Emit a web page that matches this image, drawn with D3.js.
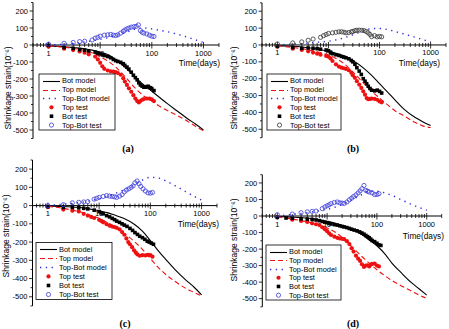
<!DOCTYPE html>
<html><head><meta charset="utf-8">
<script src="https://cdn.jsdelivr.net/npm/d3@7"></script>
<style>body{margin:0;background:#fff}svg{display:block}text{font-family:"Liberation Sans",Arial,sans-serif;fill:#000}</style>
</head><body><svg id="c" width="449" height="329"></svg>
<script>
// ---------- DATA ----------
const modelTimes = [1,2,3,5,7,10,15,20,30,50,70,100,150,200,300,500,700,1000];

const botModelA  = [-5,-10,-15,-22,-30,-42,-60,-85,-130,-195,-235,-272,-315,-345,-385,-435,-465,-500];
const topModelA  = [-5,-13,-20,-32,-45,-70,-100,-130,-185,-260,-300,-330,-365,-385,-412,-450,-478,-505];
const diffModelA = [0,5,10,18,25,33,45,55,72,95,100,95,85,78,65,45,30,15];

const botModelB  = [-4,-8,-12,-20,-28,-38,-52,-65,-92,-140,-180,-230,-285,-325,-380,-430,-455,-478];
const topModelB  = [-5,-15,-22,-35,-45,-60,-85,-110,-160,-230,-275,-315,-360,-390,-420,-460,-480,-490];
const diffModelB = [0,5,8,14,18,22,32,42,60,85,97,98,90,80,65,45,32,18];

const botModelC  = [-2,-5,-8,-13,-20,-28,-40,-52,-70,-105,-140,-192,-255,-295,-350,-410,-445,-490];
const topModelC  = [-5,-15,-25,-40,-55,-70,-95,-115,-150,-200,-240,-290,-345,-378,-415,-455,-475,-495];
const diffModelC = [0,8,12,20,28,38,52,65,85,115,140,155,150,135,110,75,52,30];

const botModelD  = [-3,-7,-10,-16,-24,-33,-45,-58,-77,-112,-145,-180,-235,-285,-340,-405,-440,-478];
const topModelD  = [-5,-18,-28,-42,-55,-72,-100,-130,-180,-245,-285,-325,-365,-390,-420,-455,-478,-498];
const diffModelD = [0,10,15,25,32,40,55,70,95,130,150,150,138,125,100,70,52,35];

const topTestA = [[1,-10],[2,-22],[3,-30],[4,-38],[5,-45],[6,-55],[8,-68],[9,-85],[10,-105],[11,-125],[12,-140],[14,-150],[16,-155],[18,-157],[20,-160],[22,-165],[25,-175],[28,-195],[30,-215],[33,-235],[36,-255],[40,-275],[44,-295],[48,-315],[52,-330],[56,-338],[60,-330],[65,-322],[70,-318],[80,-315],[90,-315],[100,-320],[110,-330]];
const botTestA = [[1,-2],[2,-15],[3,-20],[4,-27],[5,-30],[6,-35],[8,-42],[9,-48],[10,-52],[11,-58],[12,-62],[14,-68],[16,-75],[18,-85],[20,-92],[22,-97],[25,-102],[28,-110],[30,-120],[33,-130],[36,-142],[40,-160],[44,-178],[48,-192],[52,-205],[56,-222],[60,-235],[65,-242],[70,-248],[75,-248],[80,-245],[85,-243],[90,-250],[95,-252],[100,-258],[110,-268]];
const diffTestA = [[1,5],[2,10],[3,15],[4,20],[5,22],[7,30],[8,40],[9,45],[10,52],[12,58],[14,60],[16,62],[18,58],[20,56],[22,60],[25,70],[28,80],[30,88],[33,95],[36,100],[40,105],[45,108],[50,110],[55,118],[60,85],[65,75],[70,70],[80,65],[90,58],[100,52],[110,50]];

const topTestB = [[1,-10],[2,-22],[3,-30],[4,-38],[5,-45],[6,-52],[7,-58],[9,-65],[10,-70],[11,-80],[12,-95],[14,-115],[16,-128],[18,-135],[20,-138],[22,-142],[25,-150],[28,-165],[30,-180],[33,-195],[36,-215],[40,-235],[44,-255],[48,-275],[52,-295],[56,-315],[60,-322],[65,-320],[70,-318],[80,-320],[90,-325],[100,-335],[110,-340]];
const botTestB = [[1,-8],[2,-15],[3,-20],[4,-18],[5,-20],[6,-22],[7,-25],[9,-30],[10,-35],[11,-45],[12,-52],[14,-58],[16,-62],[18,-68],[20,-72],[22,-76],[25,-82],[28,-92],[30,-100],[33,-115],[36,-135],[40,-155],[44,-175],[48,-200],[52,-215],[56,-230],[60,-245],[65,-258],[70,-268],[80,-272],[90,-268],[100,-275],[110,-285]];
const diffTestB = [[1,6],[2,12],[3,18],[4,28],[5,35],[7,45],[8,55],[9,62],[10,68],[12,72],[14,75],[16,78],[18,78],[20,76],[22,72],[25,74],[28,78],[30,80],[33,85],[36,87],[40,88],[45,87],[50,85],[55,80],[60,72],[65,62],[70,50],[80,55],[90,48],[100,50],[110,48]];

const topTestC = [[1,-8],[2,-22],[3,-28],[4,-32],[5,-45],[6,-55],[7,-62],[8,-68],[10,-78],[11,-85],[12,-92],[14,-102],[16,-110],[18,-115],[20,-118],[22,-122],[25,-130],[28,-145],[31,-160],[34,-180],[37,-200],[40,-212],[44,-228],[48,-245],[52,-258],[56,-268],[62,-275],[70,-272],[80,-273],[90,-270],[100,-272],[110,-280]];
const botTestC = [[1,-6],[2,-10],[3,-10],[4,-12],[5,-15],[6,-18],[8,-25],[10,-33],[11,-40],[12,-45],[14,-55],[16,-62],[18,-70],[20,-77],[22,-85],[25,-92],[28,-100],[31,-107],[35,-114],[40,-125],[45,-136],[50,-148],[56,-158],[62,-168],[70,-176],[78,-185],[87,-195],[95,-200],[105,-206],[115,-212]];
const diffTestC = [[1,0],[2,5],[3,15],[4,18],[5,20],[6,22],[8,35],[9,40],[10,45],[12,50],[14,55],[16,52],[18,50],[20,48],[22,45],[25,52],[28,60],[31,75],[34,85],[38,92],[42,100],[46,108],[50,125],[55,135],[60,120],[65,105],[72,92],[80,80],[90,70],[100,68],[110,72]];

const topTestD = [[1,-8],[2,-22],[3,-30],[4,-36],[5,-44],[6,-50],[7,-55],[8,-68],[9,-80],[10,-92],[11,-105],[12,-115],[14,-125],[16,-132],[18,-136],[20,-138],[22,-140],[25,-152],[28,-170],[31,-195],[34,-215],[38,-240],[42,-258],[46,-272],[50,-292],[55,-308],[60,-300],[65,-298],[70,-305],[75,-295],[80,-290],[90,-288],[100,-300],[110,-305]];
const botTestD = [[1,-8],[1.5,-12],[2,-14],[3,-17],[4,-19],[5,-21],[6,-24],[7,-28],[8,-33],[9,-37],[10,-40],[11,-44],[12,-48],[14,-52],[16,-55],[18,-59],[20,-63],[22,-66],[25,-70],[28,-75],[31,-80],[35,-85],[40,-90],[45,-96],[50,-103],[55,-110],[60,-118],[65,-125],[70,-132],[75,-140],[80,-148],[90,-155],[100,-165],[110,-175],[120,-178]];
const diffTestD = [[1,8],[2,12],[3,20],[4,25],[5,28],[6,30],[8,45],[9,55],[10,62],[11,68],[12,75],[14,82],[16,85],[18,80],[20,78],[22,76],[25,85],[28,98],[31,108],[34,118],[38,128],[42,140],[46,152],[50,165],[55,185],[60,155],[65,150],[70,145],[80,140],[90,130],[100,130],[110,135]];

const yTickValues = [200,100,0,-100,-200,-300,-400,-500];
const xTickValues = [1,10,100,1000];
const xTickLabels = ["1","10","100","1000"];
const legendLabels = ["Bot model","Top model","Top-Bot model","Top test","Bot test","Top-Bot test"];
const panelLabels = ["(a)","(b)","(c)","(d)"];
const xAxisTitle = "Time(days)";
const yAxisTitle = "Shrinkage strain(10\u207B\u2076)";
const diffTestColors = ["#3b3bd9","#333333","#3b3bd9","#3b3bd9"];

// ---------- LAYOUT ----------
const panels = [
  {bot:botModelA, top:topModelA, diff:diffModelA, topT:topTestA, botT:botTestA, diffT:diffTestA,
   xr:[33,219], yr:[2.5,138.5], leg:[39,74,76,56], lab:[128,152], tit:[8,88], time:[220,66]},
  {bot:botModelB, top:topModelB, diff:diffModelB, topT:topTestB, botT:botTestB, diffT:diffTestB,
   xr:[262,446], yr:[2.8,137.7], leg:[267,74,74,56], lab:[353,152], tit:[234,88], time:[440,66]},
  {bot:botModelC, top:topModelC, diff:diffModelC, topT:topTestC, botT:botTestC, diffT:diffTestC,
   xr:[32.5,217], yr:[160,305.9], leg:[36,242.5,76,57], lab:[125,327], tit:[6,236], time:[219,227]},
  {bot:botModelD, top:topModelD, diff:diffModelD, topT:topTestD, botT:botTestD, diffT:diffTestD,
   xr:[262.3,441.7], yr:[174.7,306.9], leg:[266,245,75,55], lab:[353,327], tit:[234,240], time:[444,239]}
];

const svg = d3.select("#c");
const RED = "#ee1111", BLUE = "#2b2bdd";

panels.forEach((p, i) => {
  const g = svg.append("g");
  const x = d3.scaleLog().domain([0.5, 2000]).range(p.xr);
  const y = d3.scaleLinear().domain([250, -550]).range(p.yr);
  const y0 = y(0);

  // y axis line + ticks
  g.append("line").attr("x1", p.xr[0]).attr("x2", p.xr[0]).attr("y1", p.yr[0]).attr("y2", p.yr[1])
    .attr("stroke", "#000").attr("stroke-width", 1);
  d3.range(-550, 251, 50).forEach(v => {
    const major = v % 100 === 0;
    g.append("line").attr("x1", p.xr[0] - (major ? 3.5 : 2)).attr("x2", p.xr[0])
      .attr("y1", y(v)).attr("y2", y(v)).attr("stroke", "#000").attr("stroke-width", 0.8);
  });
  yTickValues.forEach(v => {
    g.append("text").attr("x", p.xr[0] - 5).attr("y", y(v)).attr("dy", "0.35em")
      .attr("text-anchor", "end").attr("font-size", 7.5).text(v);
  });

  // x axis at y=0
  g.append("line").attr("x1", p.xr[0]).attr("x2", p.xr[1]).attr("y1", y0).attr("y2", y0)
    .attr("stroke", "#000").attr("stroke-width", 1);
  const minor = [];
  [0.1, 1, 10, 100, 1000].forEach(d => { for (let k = 1; k < 10; k++) { const t = d * k; if (t >= 0.5 && t <= 2000) minor.push(t); } });
  minor.forEach(t => {
    const major = xTickValues.includes(t);
    g.append("line").attr("x1", x(t)).attr("x2", x(t))
      .attr("y1", y0 - (major ? 3 : 2)).attr("y2", y0 + (major ? 3.5 : 2))
      .attr("stroke", "#000").attr("stroke-width", 0.8);
  });
  xTickValues.forEach((t, k) => {
    g.append("text").attr("x", x(t)).attr("y", y0 + 10.5).attr("text-anchor", "middle")
      .attr("font-size", 7.5).text(xTickLabels[k]);
  });
  g.append("text").attr("x", p.time[0]).attr("y", p.time[1]).attr("text-anchor", "end")
    .attr("font-size", 8.3).text(xAxisTitle);

  // y title
  g.append("text").attr("transform", `translate(${p.tit[0]},${p.tit[1]}) rotate(-90)`)
    .attr("text-anchor", "middle").attr("dy", "0.35em").attr("font-size", 8.5).text(yAxisTitle);

  // model lines
  const line = d3.line().x(d => x(d[0])).y(d => y(d[1])).curve(d3.curveMonotoneX);
  const pts = arr => modelTimes.map((t, k) => [t, arr[k]]);
  g.append("path").attr("d", line(pts(p.bot))).attr("fill", "none").attr("stroke", "#000").attr("stroke-width", 1.1);
  g.append("path").attr("d", line(pts(p.top))).attr("fill", "none").attr("stroke", RED).attr("stroke-width", 1.1)
    .attr("stroke-dasharray", "5,3");
  g.append("path").attr("d", line(pts(p.diff))).attr("fill", "none").attr("stroke", BLUE).attr("stroke-width", 1.4)
    .attr("stroke-dasharray", "1.3,4.5");

  // test markers
  g.selectAll(null).data(p.topT).enter().append("circle")
    .attr("cx", d => x(d[0])).attr("cy", d => y(d[1])).attr("r", 2.1).attr("fill", RED);
  g.selectAll(null).data(p.botT).enter().append("rect")
    .attr("x", d => x(d[0]) - 1.8).attr("y", d => y(d[1]) - 1.8).attr("width", 3.6).attr("height", 3.6).attr("fill", "#000");
  g.selectAll(null).data(p.diffT).enter().append("circle")
    .attr("cx", d => x(d[0])).attr("cy", d => y(d[1])).attr("r", 2.1).attr("fill", "none")
    .attr("stroke", diffTestColors[i]).attr("stroke-width", 0.8);

  // legend
  const [lx, ly, lw, lh] = p.leg;
  g.append("rect").attr("x", lx).attr("y", ly).attr("width", lw).attr("height", lh)
    .attr("fill", "#fff").attr("stroke", "#000").attr("stroke-width", 0.8);
  const step = lh / 6.3;
  legendLabels.forEach((lab, k) => {
    const cy = ly + step * (k + 0.75);
    const ly2 = Math.round(cy) + 0.5;
    const sx = lx + 4, ex = lx + 21, mx = lx + 12.5;
    if (k === 0) g.append("line").attr("x1", sx).attr("x2", ex).attr("y1", ly2).attr("y2", ly2).attr("stroke", "#000").attr("stroke-width", 1.1);
    if (k === 1) g.append("line").attr("x1", sx).attr("x2", ex).attr("y1", ly2).attr("y2", ly2).attr("stroke", RED).attr("stroke-width", 1.2).attr("stroke-dasharray", "5,3");
    if (k === 2) g.append("line").attr("x1", sx).attr("x2", ex).attr("y1", ly2).attr("y2", ly2).attr("stroke", BLUE).attr("stroke-width", 1.4).attr("stroke-dasharray", "1.3,4.5");
    if (k === 3) g.append("circle").attr("cx", mx).attr("cy", cy).attr("r", 2.1).attr("fill", RED);
    if (k === 4) g.append("rect").attr("x", mx - 1.8).attr("y", cy - 1.8).attr("width", 3.6).attr("height", 3.6).attr("fill", "#000");
    if (k === 5) g.append("circle").attr("cx", mx).attr("cy", cy).attr("r", 2.1).attr("fill", "none").attr("stroke", diffTestColors[i]).attr("stroke-width", 0.8);
    g.append("text").attr("x", lx + 23).attr("y", cy).attr("dy", "0.35em").attr("font-size", 7.4).text(lab);
  });

  // panel label
  g.append("text").attr("x", p.lab[0]).attr("y", p.lab[1]).attr("text-anchor", "middle")
    .attr("font-size", 10).attr("font-weight", "bold").style("font-family", "'Liberation Serif','Times New Roman',serif")
    .text(panelLabels[i]);
});
</script>
</body></html>
